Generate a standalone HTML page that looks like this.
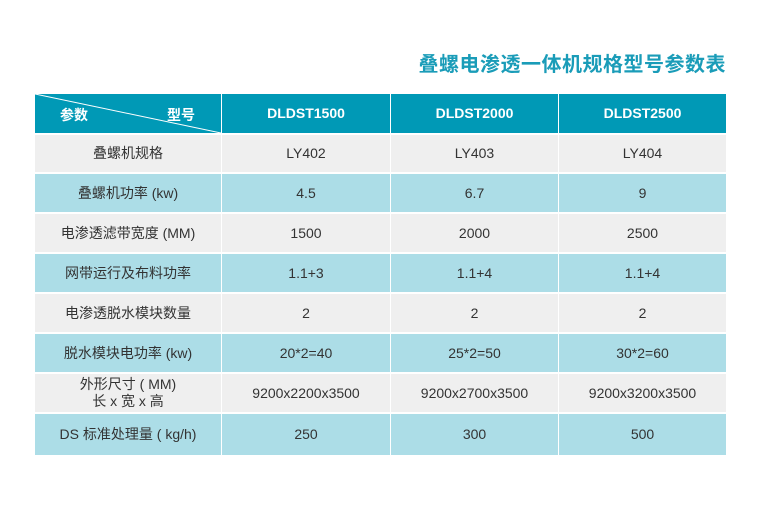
<!DOCTYPE html>
<html><head><meta charset="utf-8"><style>
body{margin:0;width:768px;height:510px;background:#fff;position:relative;overflow:hidden;font-family:"Liberation Sans","Noto Sans CJK SC",sans-serif;}
.t{position:absolute;right:42px;top:48px;font-size:20px;font-weight:bold;color:#1a9cb8;letter-spacing:0.5px;}
.c{position:absolute;display:flex;align-items:center;justify-content:center;text-align:center;font-size:14px;color:#333;line-height:17px;}
.h{background:#0099b6;color:#fff;font-weight:bold;font-size:14px;}
.g{background:#efefef;}
.b{background:#acdde7;}
</style></head><body>
<div class="t">叠螺电渗透一体机规格型号参数表</div>
<div id="tb"></div>
<script>
(function(){
var cols=[[35,186],[222,168],[391,167],[559,167]];
var rows=[
["叠螺机规格","LY402","LY403","LY404"],
["叠螺机功率 (kw)","4.5","6.7","9"],
["电渗透滤带宽度 (MM)","1500","2000","2500"],
["网带运行及布料功率","1.1+3","1.1+4","1.1+4"],
["电渗透脱水模块数量","2","2","2"],
["脱水模块电功率 (kw)","20*2=40","25*2=50","30*2=60"],
["外形尺寸 ( MM)<br>长 x 宽 x 高","9200x2200x3500","9200x2700x3500","9200x3200x3500"],
["DS 标准处理量 ( kg/h)","250","300","500"]];
var h='';
var hd=['','DLDST1500','DLDST2000','DLDST2500'];
for(var j=0;j<4;j++){h+='<div class="c h" style="left:'+cols[j][0]+'px;top:94px;width:'+cols[j][1]+'px;height:39px">'+hd[j]+'</div>';}
h+='<div style="position:absolute;left:60px;top:105px;color:#fff;font-weight:bold;font-size:14px">参数</div><div style="position:absolute;left:167px;top:105px;color:#fff;font-weight:bold;font-size:14px">型号</div>';
h+='<svg style="position:absolute;left:35px;top:94px" width="186" height="39"><line x1="0" y1="0" x2="186" y2="39" stroke="#fff" stroke-width="1"/></svg>';
for(var i=0;i<8;i++){var ty=134+40*i+(i==0?1:0);var ht=i==7?41:38;if(i==0)ht=37;
for(var j=0;j<4;j++){h+='<div class="c '+(i%2?'b':'g')+'" style="left:'+cols[j][0]+'px;top:'+ty+'px;width:'+cols[j][1]+'px;height:'+ht+'px">'+rows[i][j]+'</div>';}}
document.getElementById('tb').innerHTML=h;
})();
</script>
</body></html>
